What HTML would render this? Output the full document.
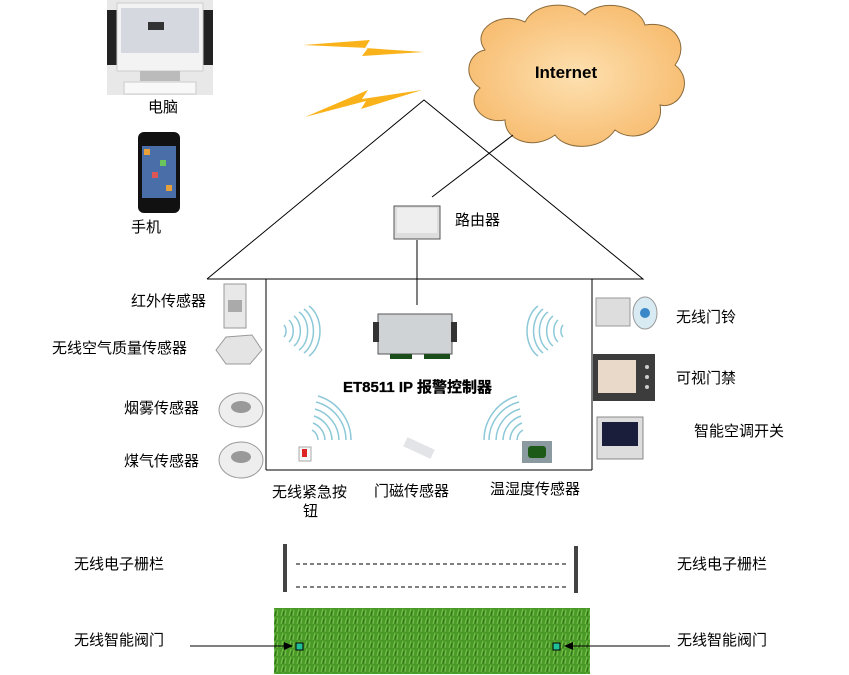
<!DOCTYPE html>
<html><head><meta charset="utf-8"><style>
body{margin:0;background:#fff;width:849px;height:675px;overflow:hidden;position:relative;font-family:"Liberation Sans","Noto Sans CJK SC",sans-serif}
.t{position:absolute;font-size:15px;color:#000;white-space:nowrap;line-height:18px}
.r{text-align:right}
</style></head><body>
<svg width="849" height="675" style="position:absolute;left:0;top:0">
<defs>
<radialGradient id="cl" cx="0.5" cy="0.5" r="0.6"><stop offset="0" stop-color="#fde0b0"/><stop offset="1" stop-color="#f7b96a"/></radialGradient>
<pattern id="gr" width="8" height="8" patternUnits="userSpaceOnUse"><rect width="8" height="8" fill="#4a9a2a"/><path d="M1 8L3 1M5 8L6 2" stroke="#7cc44a" stroke-width="1"/><path d="M3 8L4 3" stroke="#2f6e1a"/></pattern>
</defs>
<rect x="107" y="0" width="106" height="95" fill="#e8e8e8"/>
<rect x="107" y="10" width="10" height="55" fill="#222"/><rect x="203" y="10" width="10" height="55" fill="#222"/>
<rect x="117" y="3" width="86" height="68" fill="#f3f3f3" stroke="#ccc"/>
<rect x="121" y="8" width="78" height="45" fill="#d5d8de"/>
<rect x="148" y="22" width="16" height="8" fill="#333"/>
<rect x="140" y="71" width="40" height="10" fill="#bbb"/>
<rect x="124" y="82" width="72" height="12" fill="#f8f8f8" stroke="#ccc"/>
<rect x="138" y="132" width="42" height="81" rx="6" fill="#111"/>
<rect x="142" y="146" width="34" height="52" fill="#4a6fa8"/>
<g fill="#e8a13a"><rect x="144" y="149" width="6" height="6"/><rect x="160" y="160" width="6" height="6" fill="#6bc45a"/><rect x="152" y="172" width="6" height="6" fill="#d55"/><rect x="166" y="185" width="6" height="6"/></g>
<polygon points="303,45 370,40 365,48 424,52 362,56 368,48" fill="#f9b21a"/>
<polygon points="305,117 368,90 362,99 422,90 361,109 366,101" fill="#f9b21a"/>
<path d="M485,50 C470,30 500,10 525,22 C535,2 570,0 585,15 C600,-2 640,5 645,25 C675,20 690,45 675,65 C695,80 680,110 660,105 C665,130 635,145 615,130 C600,152 565,150 555,135 C535,150 505,142 505,120 C480,125 465,100 480,88 C460,75 470,52 485,50 Z" fill="url(#cl)" stroke="#8a6a3a" stroke-width="1"/>
<text x="566" y="78" font-family="Liberation Sans" font-weight="bold" font-size="17" text-anchor="middle">Internet</text>
<polyline points="207,279 424,100 643,279 207,279" fill="none" stroke="#000" stroke-width="1"/>
<line x1="266" y1="279" x2="266" y2="470" stroke="#000"/>
<line x1="592" y1="279" x2="592" y2="470" stroke="#000"/>
<line x1="266" y1="470" x2="592" y2="470" stroke="#000"/>
<line x1="432" y1="197" x2="513" y2="135" stroke="#000"/>
<line x1="417" y1="240" x2="417" y2="305" stroke="#000"/>
<rect x="394" y="206" width="46" height="33" fill="#ddd" stroke="#555"/>
<rect x="397" y="208" width="40" height="25" fill="#eee"/>
<rect x="378" y="314" width="74" height="40" fill="#cfd3d6" stroke="#555"/>
<rect x="373" y="322" width="6" height="20" fill="#333"/><rect x="451" y="322" width="6" height="20" fill="#333"/>
<rect x="390" y="354" width="22" height="5" fill="#1b4d1b"/><rect x="424" y="354" width="26" height="5" fill="#1b4d1b"/>
<g fill="none" stroke="#8cc8d8" stroke-width="1.5">
<path d="M284,325 a6,8 0 0 1 0,12"/><path d="M289,320 a9,13 0 0 1 0,22"/><path d="M294,316 a12,17 0 0 1 0,30"/><path d="M299,312 a15,21 0 0 1 0,38"/><path d="M304,309 a18,25 0 0 1 0,44"/><path d="M309,306 a20,28 0 0 1 0,50"/>
<path d="M563,325 a6,8 0 0 0 0,12"/><path d="M558,320 a9,13 0 0 0 0,22"/><path d="M553,316 a12,17 0 0 0 0,30"/><path d="M548,312 a15,21 0 0 0 0,38"/><path d="M543,309 a18,25 0 0 0 0,44"/><path d="M538,306 a20,28 0 0 0 0,50"/>
<path d="M312,430 A12,12 0 0 1 318,440"/><path d="M313,423 A19,19 0 0 1 325,440"/><path d="M314,416 A26,26 0 0 1 332,440"/><path d="M315,409 A33,33 0 0 1 339,440"/><path d="M316,402 A40,40 0 0 1 346,440"/><path d="M318,396 A46,46 0 0 1 351,440"/>
<path d="M523,430 A12,12 0 0 0 517,440"/><path d="M522,423 A19,19 0 0 0 510,440"/><path d="M521,416 A26,26 0 0 0 503,440"/><path d="M520,409 A33,33 0 0 0 496,440"/><path d="M519,402 A40,40 0 0 0 489,440"/><path d="M517,396 A46,46 0 0 0 484,440"/>
</g>
<rect x="299" y="447" width="12" height="14" fill="#f5f5f5" stroke="#aaa"/><rect x="302" y="449" width="5" height="8" fill="#d22"/>
<rect x="404" y="443" width="30" height="10" fill="#e2e4e8" transform="rotate(25 419 448)"/>
<rect x="522" y="441" width="30" height="22" fill="#8a9aa0"/><rect x="528" y="446" width="18" height="12" rx="3" fill="#1d5a18"/>
<rect x="224" y="284" width="22" height="44" fill="#e8e8e8" stroke="#999"/><rect x="228" y="300" width="14" height="12" fill="#aaa"/>
<path d="M216,350 L226,337 L252,335 L262,350 L250,364 L226,364 Z" fill="#e4e4e4" stroke="#999"/>
<ellipse cx="241" cy="410" rx="22" ry="17" fill="#eee" stroke="#999"/><ellipse cx="241" cy="407" rx="10" ry="6" fill="#999"/>
<ellipse cx="241" cy="460" rx="22" ry="18" fill="#eee" stroke="#999"/><ellipse cx="241" cy="457" rx="10" ry="6" fill="#999"/>
<rect x="596" y="298" width="34" height="28" fill="#ddd" stroke="#999"/><ellipse cx="645" cy="313" rx="12" ry="16" fill="#d8eaf2" stroke="#999"/><circle cx="645" cy="313" r="5" fill="#3a88c8"/>
<rect x="593" y="354" width="62" height="47" fill="#3c3c3c"/><rect x="598" y="360" width="38" height="33" fill="#e8d9c8"/><circle cx="647" cy="367" r="2" fill="#ccc"/><circle cx="647" cy="377" r="2" fill="#ccc"/><circle cx="647" cy="387" r="2" fill="#ccc"/>
<rect x="597" y="417" width="46" height="42" fill="#ddd" stroke="#888"/><rect x="602" y="422" width="36" height="24" fill="#1a1e3a"/>
<rect x="283" y="544" width="4" height="48" fill="#444"/><rect x="574" y="546" width="4" height="47" fill="#444"/>
<line x1="296" y1="564" x2="567" y2="564" stroke="#000" stroke-dasharray="4,3"/>
<line x1="296" y1="587" x2="567" y2="587" stroke="#000" stroke-dasharray="4,3"/>
<rect x="274" y="608" width="316" height="66" fill="url(#gr)"/>
<rect x="296" y="643" width="7" height="7" fill="#1fbf9a" stroke="#000"/>
<rect x="553" y="643" width="7" height="7" fill="#1fbf9a" stroke="#000"/>
<line x1="190" y1="646" x2="290" y2="646" stroke="#000"/><polygon points="293,646 284,642 284,650" fill="#000"/>
<line x1="670" y1="646" x2="568" y2="646" stroke="#000"/><polygon points="564,646 573,642 573,650" fill="#000"/>
</svg>
<div class="t" style="left:148px;top:99px">电脑</div>
<div class="t" style="left:131px;top:219px">手机</div>
<div class="t" style="left:455px;top:212px">路由器</div>
<div class="t r" style="right:643px;top:293px">红外传感器</div>
<div class="t r" style="right:662px;top:340px">无线空气质量传感器</div>
<div class="t r" style="right:650px;top:400px">烟雾传感器</div>
<div class="t r" style="right:650px;top:453px">煤气传感器</div>
<div class="t" style="left:676px;top:309px">无线门铃</div>
<div class="t" style="left:676px;top:370px">可视门禁</div>
<div class="t" style="left:694px;top:423px">智能空调开关</div>
<div class="t" style="left:343px;top:379px;font-weight:bold;font-size:15px;-webkit-text-stroke:0.3px #000">ET8511 IP 报警控制器</div>
<div class="t" style="left:272px;top:484px">无线紧急按</div>
<div class="t" style="left:303px;top:503px">钮</div>
<div class="t" style="left:374px;top:483px">门磁传感器</div>
<div class="t" style="left:490px;top:481px">温湿度传感器</div>
<div class="t" style="left:74px;top:556px">无线电子栅栏</div>
<div class="t" style="left:677px;top:556px">无线电子栅栏</div>
<div class="t" style="left:74px;top:632px">无线智能阀门</div>
<div class="t" style="left:677px;top:632px">无线智能阀门</div>
</body></html>
